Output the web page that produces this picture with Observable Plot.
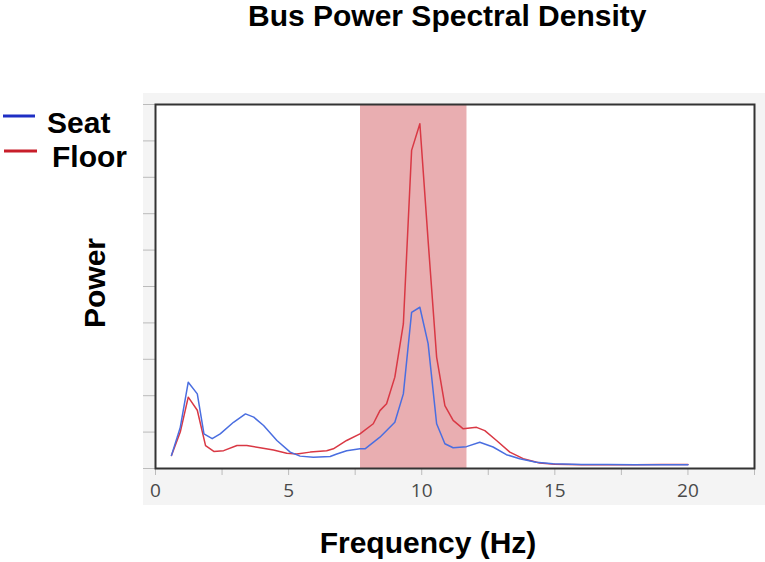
<!DOCTYPE html>
<html>
<head>
<meta charset="utf-8">
<script src="https://cdn.jsdelivr.net/npm/d3@7"></script>
<script src="https://cdn.jsdelivr.net/npm/@observablehq/plot@0.6"></script>
<style>
  html, body { margin: 0; padding: 0; background: white; }
  #chart { width: 765px; height: 562px; }
</style>
</head>
<body>
<div id="chart"></div>
<script>
// ---- data ----
const title = "Bus Power Spectral Density";
const xLabel = "Frequency (Hz)";
const yLabel = "Power";
const seriesNames = ["Seat", "Floor"];
const seriesColors = ["#4a6ee0", "#d93844"];
const legendColors = ["#1e2ec4", "#c81e2a"];

const seatFreq = [0.6, 0.93, 1.23, 1.57, 1.82, 2.13, 2.43, 2.93, 3.38, 3.69, 4.06, 4.56, 5.06, 5.43, 5.93, 6.56, 6.81, 7.18, 7.68, 7.87, 8.43, 8.99, 9.31, 9.62, 9.93, 10.24, 10.56, 10.87, 11.18, 11.68, 12.18, 12.68, 13.18, 13.68, 14.3, 14.93, 16, 17, 18, 19, 20];
const seatPower = [0.36, 1.13, 2.37, 2.05, 0.95, 0.82, 0.95, 1.27, 1.5, 1.41, 1.18, 0.77, 0.45, 0.34, 0.31, 0.33, 0.4, 0.49, 0.54, 0.54, 0.86, 1.27, 2.05, 4.29, 4.43, 3.43, 1.23, 0.68, 0.57, 0.6, 0.72, 0.59, 0.38, 0.27, 0.17, 0.13, 0.11, 0.11, 0.1, 0.1, 0.1];

const floorFreq = [0.6, 0.93, 1.23, 1.57, 1.88, 2.19, 2.56, 3.06, 3.43, 3.93, 4.43, 4.93, 5.31, 5.81, 6.43, 6.68, 7.18, 7.68, 8.18, 8.43, 8.68, 8.99, 9.31, 9.62, 9.93, 10.24, 10.56, 10.87, 11.18, 11.56, 12.06, 12.37, 12.81, 13.31, 13.81, 14.43, 15.0, 16, 17, 18, 19, 20];
const floorPower = [0.36, 1.0, 1.96, 1.6, 0.63, 0.47, 0.49, 0.63, 0.63, 0.57, 0.51, 0.42, 0.4, 0.45, 0.49, 0.54, 0.77, 0.95, 1.23, 1.59, 1.78, 2.51, 3.97, 8.74, 9.47, 6.26, 3.06, 1.73, 1.32, 1.09, 1.13, 1.04, 0.77, 0.45, 0.27, 0.15, 0.12, 0.1, 0.1, 0.1, 0.11, 0.11];

const bandStart = [7.7];
const bandEnd = [11.7];

const xMajorTicks = [0, 5, 10, 15, 20];
const xMinorTicks = [2.5, 7.5, 12.5, 17.5, 22.5];
const yTicks = [0, 1, 2, 3, 4, 5, 6, 7, 8, 9, 10];

// ---- build ----
const seat = seatFreq.map((f, i) => ({f, p: seatPower[i]}));
const floor = floorFreq.map((f, i) => ({f, p: floorPower[i]}));
const band = bandStart.map((s, i) => ({x1: s, x2: bandEnd[i]}));

const svg = Plot.plot({
  width: 765,
  height: 562,
  marginLeft: 155,
  marginRight: 11,
  marginTop: 104,
  marginBottom: 94,
  style: {fontFamily: "'Open Sans', sans-serif", fontSize: "19px", overflow: "visible"},
  x: {domain: [0, 22.5]},
  y: {domain: [0, 10]},
  marks: [
    Plot.frame({fill: "white"}),
    Plot.rect(band, {x1: "x1", x2: "x2", fill: "#e9aeb1"}),
    Plot.line(floor, {x: "f", y: "p", stroke: seriesColors[1], strokeWidth: 1.5}),
    Plot.line(seat, {x: "f", y: "p", stroke: seriesColors[0], strokeWidth: 1.5}),
    Plot.axisY({ticks: yTicks, tickSize: 12, stroke: "#bbbbbb", fill: "none", label: null}),
    Plot.axisX({ticks: xMinorTicks, tickSize: 7, stroke: "#bbbbbb", fill: "none", label: null}),
    Plot.axisX({ticks: xMajorTicks, tickSize: 7, tickPadding: 8, stroke: "#bbbbbb", fill: "#4a4a4a", fontSize: 19, label: null}),
    Plot.frame({stroke: "#333333", strokeWidth: 2})
  ]
});

const s = d3.select(svg);
// gray panel behind plot area
s.insert("rect", ":first-child")
  .attr("x", 143).attr("y", 93).attr("width", 622).attr("height", 412)
  .attr("fill", "#f4f4f4");
s.insert("rect", ":first-child")
  .attr("x", 0).attr("y", 0).attr("width", 765).attr("height", 562)
  .attr("fill", "white");

const bold = "'Liberation Sans', Arial, sans-serif";
s.append("text").text(title)
  .attr("x", 248).attr("y", 26).attr("text-anchor", "start")
  .attr("font-family", bold).attr("font-weight", "bold").attr("font-size", 30).attr("fill", "#000");
s.append("text").text(xLabel)
  .attr("x", 428).attr("y", 553).attr("text-anchor", "middle")
  .attr("font-family", bold).attr("font-weight", "bold").attr("font-size", 30).attr("fill", "#000");
s.append("text").text(yLabel)
  .attr("transform", "translate(105,283) rotate(-90)").attr("text-anchor", "middle")
  .attr("font-family", bold).attr("font-weight", "bold").attr("font-size", 30).attr("fill", "#000");

// legend
const legendRows = [
  {lx1: 3, lx2: 35, ly: 116, tx: 47, ty: 133},
  {lx1: 4, lx2: 37, ly: 151, tx: 52, ty: 167}
];
seriesNames.forEach((name, i) => {
  const r = legendRows[i];
  s.append("line").attr("x1", r.lx1).attr("x2", r.lx2).attr("y1", r.ly).attr("y2", r.ly)
    .attr("stroke", legendColors[i]).attr("stroke-width", 3);
  s.append("text").text(name).attr("x", r.tx).attr("y", r.ty).attr("text-anchor", "start")
    .attr("font-family", bold).attr("font-weight", "bold").attr("font-size", 30).attr("fill", "#000");
});

document.getElementById("chart").appendChild(svg);
</script>
</body>
</html>
